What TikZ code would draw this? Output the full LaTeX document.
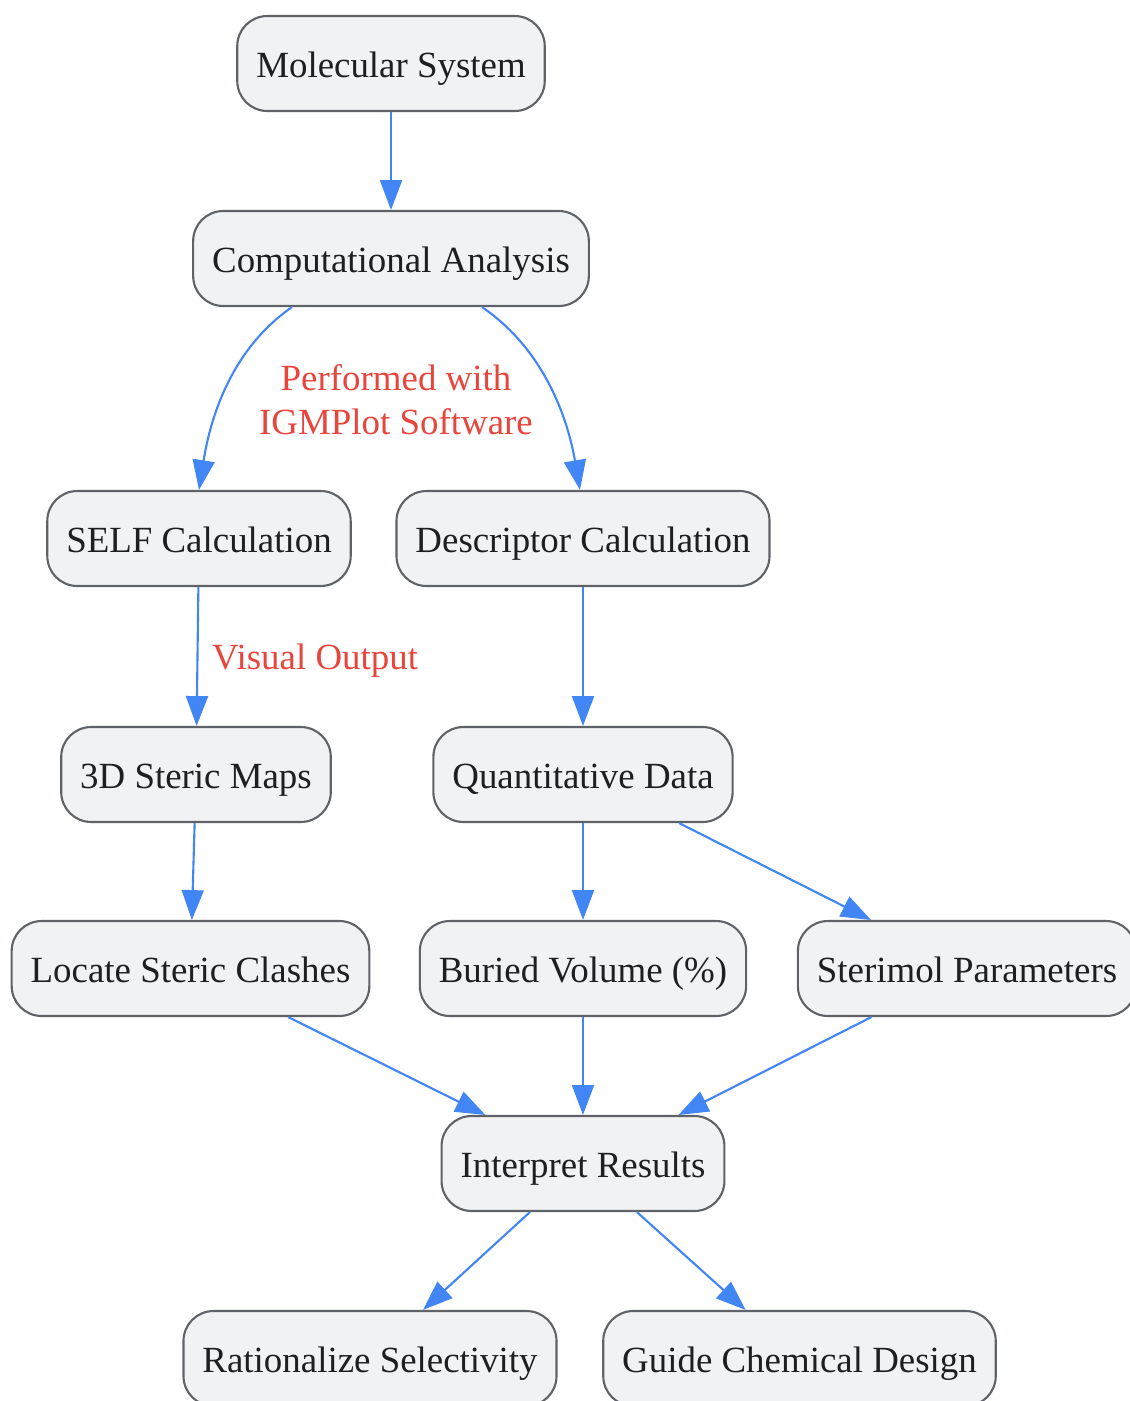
\documentclass[tikz,border=0pt]{standalone}
\usepackage{fontspec}
\setmainfont{Liberation Serif}
\usetikzlibrary{arrows.meta,calc}
\definecolor{boxfill}{HTML}{F1F2F4}
\definecolor{boxline}{HTML}{5F6368}
\definecolor{flowblue}{HTML}{4285F4}
\definecolor{notered}{HTML}{E8453C}
\tikzset{stepbox/.style={draw=boxline, fill=boxfill, rounded corners=0.6cm,
   line width=1.2pt, minimum height=1.9cm, inner xsep=0.38cm,
   text height=0.74cm, text depth=0.2cm,
   font=\fontsize{21}{25}\selectfont, text=black!88},
 flow/.style={draw=flowblue, line width=1.2pt, -{Triangle[length=17pt,width=12.5pt]}},
 note/.style={text=notered, font=\fontsize{21}{25}\selectfont, align=center},
 }

\begin{document}
\begin{tikzpicture}[x=0.02cm, y=-0.02cm]
        \useasboundingbox (0,0) rectangle (1130,1401);
        % boxes
        \node[stepbox] (mol) at (391, 63.5) {Molecular System};
        \node[stepbox] (ca) at (391, 258.5) {Computational Analysis};
        \node[stepbox] (self) at (199, 538.5) {SELF Calculation};
        \node[stepbox] (desc) at (583, 538.5) {Descriptor Calculation};
        \node[stepbox] (maps) at (196, 774.5) {3D Steric Maps};
        \node[stepbox] (quant) at (583, 774.5) {Quantitative Data};
        \node[stepbox] (clash) at (190.5, 968.5) {Locate Steric Clashes};
        \node[stepbox] (bvol) at (583, 968.5) {Buried Volume (\%)};
        \node[stepbox] (steri) at (967, 968.5) {Sterimol Parameters};
        \node[stepbox] (interp) at (583, 1163.5) {Interpret Results};
        \node[stepbox] (ratio) at (370, 1358.5) {Rationalize Selectivity};
        \node[stepbox] (guide) at (799.5, 1358.5) {Guide Chemical Design};
        % labels
        \node[note] (perf) at (396, 400) {Performed with\\IGMPlot Software};
        \node[note, anchor=west] (vis) at (206, 661) {Visual Output};
        % arrows
        \draw[flow] (mol) -- (ca);
        \draw[flow] ($(ca.south)+(-99,0)$) .. controls (230, 350) and (210, 420) .. (self.north);
        \draw[flow] ($(ca.south)+(91,0)$) .. controls (545, 350) and (568, 420) .. ($(desc.north)+(-3,0)$);
        \draw[flow] (self) -- (maps);
        \draw[flow] (desc) -- (quant);
        \draw[flow] (maps) -- (clash);
        \draw[flow] (quant) -- (bvol);
        \draw[flow] (quant) -- (steri);
        \draw[flow] (clash) -- (interp);
        \draw[flow] (bvol) -- (interp);
        \draw[flow] (steri) -- (interp);
        \draw[flow] (interp) -- (ratio);
        \draw[flow] (interp) -- (guide);
    \end{tikzpicture}
\end{document}
